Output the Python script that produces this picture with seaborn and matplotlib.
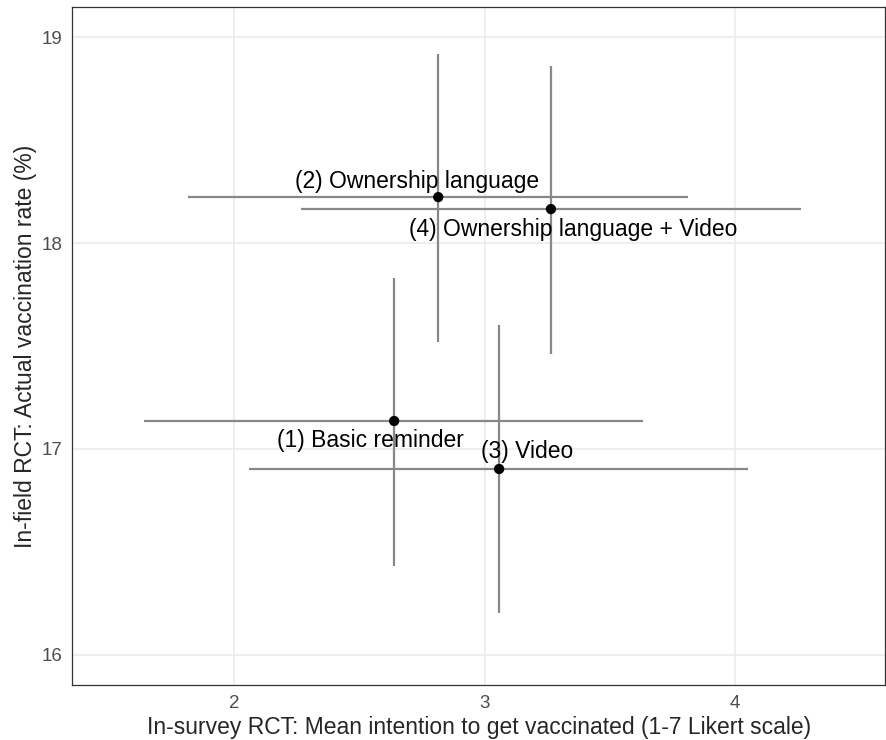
import numpy as np
import pandas as pd
import seaborn as sns
import matplotlib.pyplot as plt

# Valores
labels = ['(1) Basic reminder', '(2) Ownership language', '(3) Video',
          '(4) Ownership language + Video']
intention = [2.639, 2.815, 3.058, 3.265]
intention_lo = [1.641, 1.816, 2.060, 2.267]
intention_hi = [3.633, 3.812, 4.052, 4.263]
vacc_rate = [17.136, 18.223, 16.903, 18.165]
vacc_lo = [16.43, 17.52, 16.204, 17.461]
vacc_hi = [17.83, 18.917, 17.60, 18.859]

df = pd.DataFrame({'label': labels, 'x': intention, 'y': vacc_rate,
                   'xlo': intention_lo, 'xhi': intention_hi,
                   'ylo': vacc_lo, 'yhi': vacc_hi})

sns.set_style('white')
plt.rcParams['font.family'] = ['Liberation Sans', 'DejaVu Sans']

fig = plt.figure(figsize=(8.86, 7.4), dpi=100)
ax = fig.add_axes([0.0813, 0.0743, 0.9177, 0.9162])

# Barras de erro
ax.hlines(df['y'], df['xlo'], df['xhi'], color='#888888', linewidth=1.6, zorder=2)
ax.vlines(df['x'], df['ylo'], df['yhi'], color='#888888', linewidth=1.6, zorder=2)

sns.scatterplot(data=df, x='x', y='y', color='black', s=55, edgecolor='none',
                ax=ax, zorder=3)

# Posição dos rótulos (em pixels, relativo ao ponto)
offsets = [(-24, -20), (-21, 16), (28, 17), (22, -20)]
for (_, row), off in zip(df.iterrows(), offsets):
    ax.annotate(row['label'], (row['x'], row['y']), xytext=off,
                textcoords='offset pixels', ha='center', va='center',
                fontsize=16.5, color='black', zorder=4)

ax.set_xlim(1.353, 4.599)
ax.set_ylim(15.854, 19.146)
ax.set_xticks([2, 3, 4])
ax.set_yticks([16, 17, 18, 19])
ax.grid(True, color='#EBEBEB', linewidth=1.2, zorder=0)
ax.set_axisbelow(True)
for s in ax.spines.values():
    s.set_color('#333333')
    s.set_linewidth(0.9)
ax.tick_params(axis='both', length=4, width=1, color='#333333',
               labelcolor='#4D4D4D', labelsize=13.5, direction='out', pad=3)

ax.set_xlabel('In-survey RCT: Mean intention to get vaccinated (1-7 Likert scale)',
              fontsize=16.5, labelpad=3)
ax.set_ylabel('In-field RCT: Actual vaccination rate (%)', fontsize=16.5, labelpad=3)

plt.savefig('out.png', dpi=100)
plt.close()
